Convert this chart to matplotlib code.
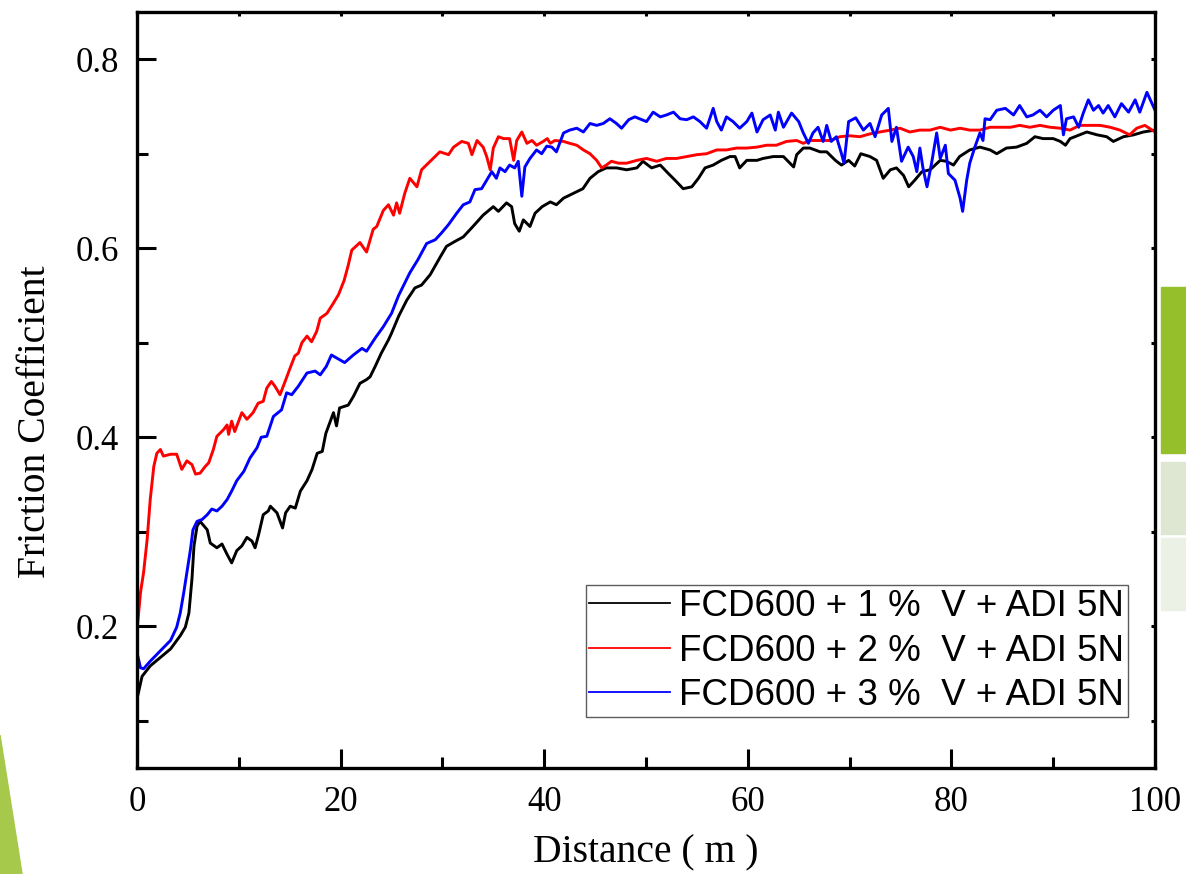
import matplotlib
matplotlib.use("Agg")
import matplotlib.pyplot as plt
from matplotlib.patches import Polygon, Rectangle
from matplotlib.ticker import MultipleLocator

# ---- data (distance in m, friction coefficient) ----
dist_1v = [0.0, 0.5, 1.3, 2.3, 3.3, 4.25, 4.75, 5.1, 5.4, 5.6, 5.9, 6.2, 6.9, 7.2, 7.85, 8.35,
           8.85, 9.3, 9.8, 10.3, 10.8, 11.3, 11.6, 11.95, 12.4, 12.9, 13.1, 13.75, 14.3, 14.6,
           15.05, 15.55, 16.05, 16.7, 17.2, 17.7, 18.2, 18.55, 19.3, 19.6, 19.9, 20.75, 21.25,
           21.9, 22.55, 22.9, 23.4, 24.0, 24.7, 25.0, 25.7, 26.5, 27.3, 27.95, 28.8, 29.8, 30.4,
           31.2, 32.05, 33.0, 34.0, 35.0, 35.5, 36.3, 36.8, 37.1, 37.55, 37.95, 38.6, 39.1, 39.8,
           40.6, 41.2, 41.9, 42.85, 43.8, 44.5, 45.3, 46.1, 47.1, 48.1, 49.1, 49.7, 50.55, 51.4,
           52.2, 52.85, 53.65, 54.5, 55.15, 55.8, 56.6, 57.4, 58.25, 58.75, 59.2, 59.9, 60.9,
           61.5, 62.5, 63.5, 64.5, 64.8, 65.45, 66.1, 67.1, 67.75, 68.6, 69.2, 69.9, 70.5, 71.1,
           72.0, 72.65, 73.3, 74.0, 74.6, 75.3, 75.8, 76.4, 77.1, 77.9, 78.9, 79.5, 80.2, 80.8,
           81.8, 82.8, 83.8, 84.45, 85.4, 86.4, 87.4, 88.2, 89.0, 90.0, 90.7, 91.2, 91.65, 92.6,
           93.3, 94.3, 95.25, 95.9, 96.9, 97.9, 98.85, 100.0]
mu_1v = [0.123, 0.147, 0.158, 0.167, 0.176, 0.190, 0.199, 0.214, 0.250, 0.285, 0.306, 0.311,
         0.302, 0.288, 0.283, 0.287, 0.276, 0.267, 0.280, 0.285, 0.294, 0.290, 0.283, 0.297,
         0.318, 0.322, 0.327, 0.320, 0.304, 0.320, 0.327, 0.325, 0.343, 0.354, 0.366, 0.383,
         0.385, 0.404, 0.426, 0.412, 0.431, 0.434, 0.443, 0.457, 0.461, 0.464, 0.475, 0.489,
         0.503, 0.510, 0.528, 0.545, 0.558, 0.561, 0.572, 0.591, 0.602, 0.607, 0.612, 0.623,
         0.635, 0.644, 0.639, 0.648, 0.644, 0.626, 0.618, 0.630, 0.623, 0.637, 0.644, 0.649,
         0.646, 0.653, 0.658, 0.663, 0.674, 0.681, 0.685, 0.685, 0.683, 0.685, 0.692, 0.685,
         0.688, 0.679, 0.672, 0.663, 0.665, 0.674, 0.685, 0.688, 0.693, 0.697, 0.697, 0.685,
         0.693, 0.693, 0.695, 0.697, 0.697, 0.686, 0.699, 0.706, 0.706, 0.702, 0.702, 0.693,
         0.688, 0.693, 0.687, 0.700, 0.697, 0.693, 0.674, 0.683, 0.685, 0.677, 0.665, 0.672,
         0.681, 0.683, 0.693, 0.692, 0.688, 0.697, 0.704, 0.707, 0.704, 0.700, 0.706, 0.707,
         0.711, 0.718, 0.716, 0.716, 0.713, 0.709, 0.716, 0.720, 0.723, 0.720, 0.718, 0.713,
         0.718, 0.720, 0.723, 0.725]

dist_2v = [0.0, 0.35, 0.65, 1.0, 1.3, 1.65, 1.95, 2.3, 2.6, 3.3, 3.9, 4.4, 4.9, 5.4, 5.75, 6.2,
           6.7, 7.05, 7.5, 7.85, 8.5, 8.85, 9.0, 9.3, 9.6, 10.3, 10.8, 11.4, 11.9, 12.4, 12.75,
           13.2, 13.55, 14.05, 14.55, 15.0, 15.5, 15.85, 16.2, 16.7, 17.15, 17.65, 18.0, 18.65,
           19.3, 19.8, 20.35, 20.75, 21.1, 21.9, 22.55, 23.2, 23.55, 24.2, 24.7, 25.2, 25.5,
           25.8, 26.3, 26.8, 27.5, 27.95, 28.8, 29.75, 30.6, 31.1, 31.9, 32.55, 32.9, 33.4,
           34.0, 34.35, 34.7, 35.0, 35.5, 36.0, 36.6, 37.0, 37.3, 37.8, 38.3, 38.8, 39.25, 39.9,
           40.3, 40.6, 41.05, 41.9, 42.5, 43.2, 43.85, 44.5, 45.15, 45.65, 46.1, 46.6, 47.3,
           48.1, 49.1, 50.05, 51.05, 52.0, 53.0, 54.0, 55.0, 55.95, 56.95, 57.9, 58.9, 59.9,
           60.9, 61.85, 62.8, 63.8, 64.8, 65.45, 66.1, 67.1, 68.1, 69.05, 70.0, 71.0, 72.0,
           72.95, 74.0, 74.95, 75.9, 76.9, 77.9, 78.9, 79.9, 80.85, 81.8, 82.8, 83.8, 84.8,
           85.8, 86.7, 87.7, 88.7, 89.7, 90.7, 91.65, 92.6, 93.6, 94.6, 95.6, 96.55, 97.5,
           98.2, 99.0, 100.0]
mu_2v = [0.195, 0.236, 0.257, 0.292, 0.334, 0.369, 0.383, 0.387, 0.380, 0.382, 0.382, 0.366,
         0.375, 0.371, 0.361, 0.362, 0.369, 0.373, 0.387, 0.401, 0.408, 0.413, 0.403, 0.417,
         0.406, 0.426, 0.419, 0.426, 0.436, 0.438, 0.452, 0.459, 0.454, 0.445, 0.459, 0.472,
         0.486, 0.489, 0.500, 0.507, 0.501, 0.512, 0.526, 0.531, 0.542, 0.551, 0.566, 0.582,
         0.598, 0.606, 0.596, 0.620, 0.623, 0.640, 0.646, 0.635, 0.648, 0.637, 0.658, 0.674,
         0.665, 0.683, 0.692, 0.702, 0.699, 0.707, 0.713, 0.711, 0.699, 0.714, 0.707, 0.697,
         0.683, 0.706, 0.718, 0.716, 0.716, 0.693, 0.714, 0.723, 0.711, 0.714, 0.709, 0.713,
         0.716, 0.711, 0.714, 0.713, 0.711, 0.709, 0.704, 0.700, 0.693, 0.685, 0.688, 0.692,
         0.690, 0.690, 0.693, 0.695, 0.692, 0.695, 0.695, 0.697, 0.699, 0.700, 0.704, 0.704,
         0.706, 0.706, 0.707, 0.709, 0.709, 0.713, 0.714, 0.711, 0.714, 0.714, 0.714, 0.718,
         0.719, 0.718, 0.721, 0.723, 0.725, 0.727, 0.723, 0.725, 0.725, 0.728, 0.725, 0.727,
         0.725, 0.725, 0.728, 0.728, 0.728, 0.730, 0.728, 0.730, 0.728, 0.727, 0.725, 0.730,
         0.730, 0.730, 0.728, 0.725, 0.720, 0.727, 0.730, 0.723]

dist_3v = [0.0, 0.35, 0.65, 1.3, 2.3, 3.3, 3.9, 4.25, 4.6, 4.9, 5.25, 5.5, 5.9, 6.4, 6.9, 7.35,
           7.85, 8.35, 8.85, 9.3, 9.8, 10.5, 11.1, 11.8, 12.2, 12.75, 13.4, 14.2, 14.7, 15.2,
           15.85, 16.7, 17.5, 18.0, 18.6, 19.1, 19.9, 20.4, 21.25, 22.1, 22.55, 23.4, 24.2,
           25.0, 25.7, 26.8, 27.6, 28.45, 29.3, 29.9, 30.6, 31.4, 32.05, 32.7, 33.2, 33.85,
           34.35, 34.85, 35.3, 35.65, 36.15, 36.6, 37.1, 37.45, 37.8, 38.1, 38.6, 39.25, 39.75,
           40.25, 40.75, 41.2, 41.9, 42.5, 43.2, 43.85, 44.5, 45.15, 45.8, 46.45, 47.1, 47.6,
           48.3, 48.9, 49.6, 50.05, 50.7, 51.4, 52.0, 52.7, 53.35, 54.0, 54.65, 55.3, 55.95,
           56.6, 56.95, 57.4, 57.9, 58.55, 59.2, 59.9, 60.4, 60.9, 61.5, 62.2, 62.7, 63.0, 63.5,
           64.3, 65.0, 65.45, 65.95, 66.4, 66.9, 67.4, 67.75, 68.2, 68.7, 69.2, 69.45, 69.9,
           70.6, 71.35, 72.0, 72.5, 73.15, 73.8, 74.15, 74.6, 75.1, 75.75, 76.25, 76.6, 76.9,
           77.2, 77.6, 78.05, 78.55, 78.9, 79.4, 79.7, 80.35, 80.85, 81.1, 81.5, 81.8, 82.3,
           82.8, 83.1, 83.3, 83.8, 84.45, 85.3, 86.1, 86.7, 87.4, 88.0, 88.7, 89.35, 90.0, 90.7,
           91.0, 91.3, 92.0, 92.5, 92.95, 93.45, 93.95, 94.45, 94.9, 95.4, 96.05, 96.7, 97.4,
           98.05, 98.5, 99.2, 100.0]
mu_3v = [0.172, 0.156, 0.155, 0.163, 0.174, 0.185, 0.199, 0.214, 0.236, 0.257, 0.281, 0.302,
         0.311, 0.313, 0.318, 0.324, 0.322, 0.327, 0.334, 0.343, 0.354, 0.364, 0.378, 0.389,
         0.400, 0.401, 0.422, 0.429, 0.447, 0.445, 0.454, 0.468, 0.470, 0.466, 0.475, 0.487,
         0.482, 0.479, 0.487, 0.494, 0.491, 0.505, 0.517, 0.531, 0.550, 0.574, 0.588, 0.605,
         0.609, 0.616, 0.625, 0.637, 0.646, 0.649, 0.662, 0.663, 0.672, 0.681, 0.674, 0.685,
         0.681, 0.688, 0.685, 0.692, 0.655, 0.686, 0.695, 0.704, 0.700, 0.708, 0.707, 0.702,
         0.722, 0.725, 0.727, 0.723, 0.732, 0.730, 0.732, 0.737, 0.732, 0.727, 0.736, 0.739,
         0.736, 0.734, 0.744, 0.739, 0.741, 0.744, 0.737, 0.736, 0.739, 0.734, 0.727, 0.748,
         0.734, 0.725, 0.739, 0.734, 0.727, 0.734, 0.743, 0.723, 0.736, 0.741, 0.725, 0.744,
         0.728, 0.743, 0.734, 0.722, 0.711, 0.722, 0.728, 0.713, 0.730, 0.713, 0.718, 0.700,
         0.690, 0.734, 0.738, 0.725, 0.732, 0.718, 0.741, 0.748, 0.713, 0.728, 0.692, 0.707,
         0.697, 0.681, 0.706, 0.685, 0.665, 0.690, 0.722, 0.695, 0.709, 0.679, 0.672, 0.653,
         0.639, 0.672, 0.690, 0.707, 0.722, 0.714, 0.737, 0.736, 0.746, 0.748, 0.741, 0.751,
         0.739, 0.741, 0.746, 0.739, 0.746, 0.751, 0.720, 0.737, 0.739, 0.728, 0.743, 0.757,
         0.746, 0.751, 0.743, 0.751, 0.739, 0.753, 0.744, 0.757, 0.744, 0.765, 0.746]

labels = ["FCD600 + 1 %  V + ADI 5N", "FCD600 + 2 %  V + ADI 5N", "FCD600 + 3 %  V + ADI 5N"]
colors = ["black", "red", "blue"]

serif = ["Liberation Serif", "DejaVu Serif"]
narrow = ["Liberation Sans Narrow", "Liberation Sans", "DejaVu Sans"]

fig = plt.figure(figsize=(11.86, 8.74), dpi=100)

# slide decoration around the pasted chart
fig.patches.append(Polygon([[0, 0.159], [0.0186, 0], [0, 0]], closed=True,
                           transform=fig.transFigure, color="#a6c94c", zorder=0))
fig.patches.append(Rectangle((0.9789, 0.4817), 0.03, 0.19, transform=fig.transFigure,
                             color="#95bf2b", zorder=0))
fig.patches.append(Rectangle((0.9789, 0.389), 0.03, 0.0824, transform=fig.transFigure,
                             color="#dde7d1", zorder=0))
fig.patches.append(Rectangle((0.9789, 0.302), 0.03, 0.0824, transform=fig.transFigure,
                             color="#ecf1e6", zorder=0))

ax = fig.add_axes([0.1155, 0.1213, 0.8584, 0.865])
ax.set_facecolor("none")

for x, y, c, lab in zip([dist_1v, dist_2v, dist_3v], [mu_1v, mu_2v, mu_3v], colors, labels):
    ax.plot(x, y, color=c, lw=2.1, label=lab)

ax.set_xlim(0, 100)
ax.set_ylim(0.05, 0.85)
ax.xaxis.set_major_locator(MultipleLocator(20))
ax.xaxis.set_minor_locator(MultipleLocator(10))
ax.yaxis.set_major_locator(MultipleLocator(0.2))
ax.yaxis.set_minor_locator(MultipleLocator(0.1))

for s in ax.spines.values():
    s.set_linewidth(2.4)
ax.tick_params(which="major", direction="in", length=14, width=2.2, labelsize=25,
               top=True, right=True)
ax.tick_params(which="minor", direction="in", length=8, width=2.2, top=True, right=True)
ax.tick_params(axis="y", which="major", pad=13)
ax.tick_params(axis="x", which="major", pad=13)
# the top and right ticks are only tiny stubs in the original
for t in (ax.xaxis.get_major_ticks() + ax.xaxis.get_minor_ticks()
          + ax.yaxis.get_major_ticks() + ax.yaxis.get_minor_ticks()):
    t.tick2line.set_markersize(3)
for lab in ax.get_xticklabels() + ax.get_yticklabels():
    lab.set_family(serif)

ax.set_xlabel("Distance ( m )", fontsize=28.5, family=serif)
ax.set_ylabel("Friction Coefficient", fontsize=28.5, family=serif)
ax.xaxis.set_label_coords(0.5, -0.088)
ax.yaxis.set_label_coords(-0.082, 0.458)

leg = ax.legend(loc="lower right", bbox_to_anchor=(0.9735, 0.0675), borderaxespad=0,
                prop={"family": narrow, "size": 26.5}, frameon=True, fancybox=False,
                handlelength=2.2, handletextpad=0.25, labelspacing=0.26, borderpad=0.1)
leg.get_frame().set_edgecolor("#333333")
leg.get_frame().set_linewidth(1.0)
for line in leg.get_lines():
    line.set_linewidth(1.3)

fig.savefig("out.png", dpi=100)
